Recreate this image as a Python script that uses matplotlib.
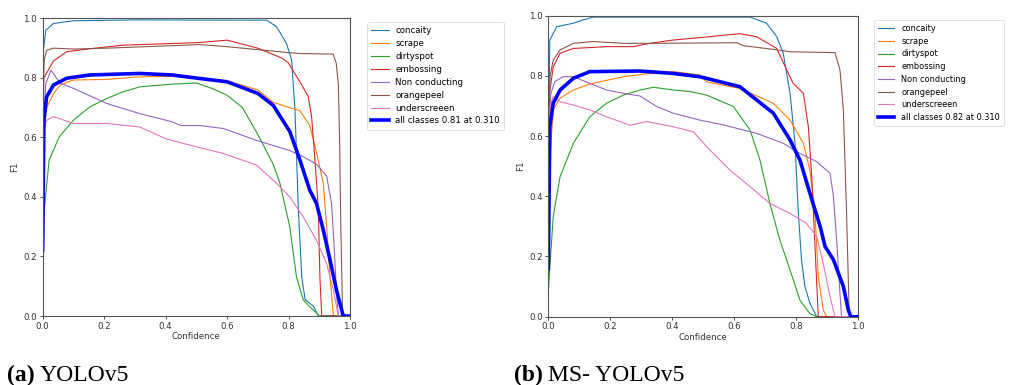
import matplotlib
matplotlib.use("Agg")
import matplotlib.pyplot as plt

class_names = ["concaity", "scrape", "dirtyspot", "embossing",
               "Non conducting", "orangepeel", "underscreeen"]
all_label_a = "all classes 0.81 at 0.310"
all_label_b = "all classes 0.82 at 0.310"
caption_a = ("(a)", "YOLOv5")
caption_b = ("(b)", "MS- YOLOv5")
ticks = [0.0, 0.2, 0.4, 0.6, 0.8, 1.0]

# ---------------- (a) YOLOv5 ----------------
a_concaity_x = [0, 0.003, 0.01, 0.035, 0.1, 0.3, 0.729, 0.761, 0.793, 0.81, 0.821, 0.832, 0.843, 0.854, 0.881, 0.897, 1.0]
a_concaity_y = [0.6, 0.9, 0.96, 0.983, 0.992, 0.995, 0.994, 0.972, 0.916, 0.86, 0.69, 0.356, 0.13, 0.055, 0.033, 0.0, 0.0]

a_scrape_x = [0, 0.004, 0.013, 0.035, 0.057, 0.1, 0.21, 0.316, 0.45, 0.6, 0.7, 0.75, 0.804, 0.837, 0.869, 0.891, 0.913, 0.924, 0.935, 0.946, 1.0]
a_scrape_y = [0.45, 0.62, 0.70, 0.747, 0.776, 0.793, 0.795, 0.804, 0.805, 0.79, 0.76, 0.718, 0.70, 0.69, 0.64, 0.55, 0.446, 0.30, 0.13, 0.0, 0.0]

a_dirty_x = [0, 0.005, 0.021, 0.054, 0.1, 0.154, 0.209, 0.26, 0.316, 0.42, 0.5, 0.55, 0.6, 0.65, 0.7, 0.75, 0.772, 0.804, 0.826, 0.848, 0.87, 0.891, 0.9, 1.0]
a_dirty_y = [0.11, 0.356, 0.524, 0.602, 0.658, 0.703, 0.731, 0.753, 0.77, 0.779, 0.783, 0.765, 0.742, 0.70, 0.61, 0.51, 0.446, 0.30, 0.13, 0.054, 0.03, 0.01, 0.0, 0.0]

a_emboss_x = [0, 0.004, 0.035, 0.078, 0.154, 0.26, 0.512, 0.6, 0.7, 0.78, 0.8, 0.82, 0.837, 0.864, 0.875, 0.886, 0.897, 0.902, 0.908, 1.0]
a_emboss_y = [0.6, 0.80, 0.857, 0.888, 0.898, 0.91, 0.919, 0.927, 0.9, 0.866, 0.85, 0.815, 0.787, 0.738, 0.67, 0.524, 0.356, 0.13, 0.0, 0.0]

a_noncond_x = [0, 0.01, 0.027, 0.057, 0.1, 0.209, 0.316, 0.42, 0.45, 0.512, 0.588, 0.696, 0.804, 0.848, 0.891, 0.924, 0.94, 0.948, 0.956, 0.962, 1.0]
a_noncond_y = [0.6, 0.78, 0.826, 0.782, 0.765, 0.714, 0.68, 0.653, 0.64, 0.64, 0.63, 0.59, 0.556, 0.535, 0.51, 0.47, 0.378, 0.24, 0.076, 0.0, 0.0]

a_orange_x = [0, 0.005, 0.013, 0.035, 0.1, 0.209, 0.512, 0.6, 0.7, 0.8, 0.837, 0.945, 0.955, 0.962, 0.966, 0.970, 0.976, 1.0]
a_orange_y = [0.7, 0.86, 0.893, 0.90, 0.897, 0.90, 0.912, 0.905, 0.895, 0.885, 0.882, 0.880, 0.85, 0.78, 0.6, 0.3, 0.0, 0.0]

a_under_x = [0, 0.005, 0.013, 0.035, 0.1, 0.209, 0.316, 0.40, 0.479, 0.588, 0.696, 0.761, 0.804, 0.848, 0.891, 0.924, 0.946, 0.962, 1.0]
a_under_y = [0.5, 0.63, 0.658, 0.67, 0.647, 0.647, 0.635, 0.596, 0.574, 0.546, 0.507, 0.446, 0.40, 0.333, 0.254, 0.176, 0.087, 0.0, 0.0]

a_all_x = [0, 0.004, 0.013, 0.035, 0.078, 0.154, 0.316, 0.42, 0.512, 0.6, 0.7, 0.75, 0.804, 0.837, 0.869, 0.891, 0.913, 0.935, 0.956, 0.978, 1.0]
a_all_y = [0.22, 0.658, 0.737, 0.776, 0.799, 0.81, 0.815, 0.81, 0.798, 0.787, 0.748, 0.708, 0.62, 0.524, 0.423, 0.378, 0.289, 0.188, 0.087, 0.0, 0.0]

# ---------------- (b) MS- YOLOv5 ----------------
b_concaity_x = [0, 0.005, 0.027, 0.081, 0.113, 0.145, 0.651, 0.704, 0.737, 0.758, 0.78, 0.796, 0.806, 0.817, 0.828, 0.844, 0.866, 1.0]
b_concaity_y = [0.55, 0.919, 0.963, 0.975, 0.986, 0.995, 0.995, 0.975, 0.93, 0.875, 0.742, 0.576, 0.355, 0.188, 0.10, 0.045, 0.0, 0.0]

b_scrape_x = [0, 0.005, 0.016, 0.038, 0.081, 0.134, 0.242, 0.328, 0.403, 0.489, 0.511, 0.618, 0.726, 0.78, 0.823, 0.844, 0.86, 0.871, 0.887, 0.898, 1.0]
b_scrape_y = [0.35, 0.52, 0.687, 0.726, 0.753, 0.773, 0.797, 0.808, 0.814, 0.803, 0.78, 0.758, 0.709, 0.653, 0.576, 0.487, 0.355, 0.133, 0.022, 0.0, 0.0]

b_dirty_x = [0, 0.005, 0.016, 0.038, 0.081, 0.134, 0.188, 0.242, 0.296, 0.339, 0.403, 0.457, 0.511, 0.597, 0.651, 0.683, 0.715, 0.747, 0.78, 0.812, 0.844, 0.866, 1.0]
b_dirty_y = [0.078, 0.166, 0.332, 0.465, 0.576, 0.664, 0.709, 0.736, 0.753, 0.762, 0.753, 0.748, 0.736, 0.698, 0.62, 0.52, 0.376, 0.255, 0.155, 0.055, 0.01, 0.0, 0.0]

b_emboss_x = [0, 0.005, 0.016, 0.038, 0.081, 0.188, 0.274, 0.328, 0.403, 0.489, 0.618, 0.672, 0.737, 0.769, 0.79, 0.823, 0.839, 0.85, 0.86, 0.871, 1.0]
b_emboss_y = [0.55, 0.75, 0.83, 0.875, 0.891, 0.897, 0.897, 0.908, 0.919, 0.927, 0.94, 0.93, 0.891, 0.82, 0.775, 0.742, 0.631, 0.465, 0.244, 0.0, 0.0]

b_noncond_x = [0, 0.008, 0.021, 0.048, 0.081, 0.134, 0.188, 0.242, 0.296, 0.35, 0.403, 0.489, 0.565, 0.672, 0.758, 0.812, 0.866, 0.909, 0.92, 0.931, 0.941, 0.946, 1.0]
b_noncond_y = [0.55, 0.74, 0.781, 0.797, 0.797, 0.775, 0.753, 0.742, 0.733, 0.698, 0.676, 0.653, 0.637, 0.609, 0.576, 0.542, 0.515, 0.476, 0.399, 0.244, 0.078, 0.0, 0.0]

b_orange_x = [0, 0.006, 0.016, 0.038, 0.081, 0.145, 0.242, 0.35, 0.608, 0.63, 0.726, 0.78, 0.925, 0.941, 0.952, 0.962, 0.971, 1.0]
b_orange_y = [0.6, 0.80, 0.853, 0.886, 0.908, 0.914, 0.908, 0.908, 0.91, 0.90, 0.888, 0.88, 0.877, 0.82, 0.686, 0.355, 0.0, 0.0]

b_under_x = [0, 0.006, 0.016, 0.038, 0.081, 0.134, 0.188, 0.263, 0.317, 0.403, 0.468, 0.489, 0.522, 0.586, 0.651, 0.715, 0.78, 0.833, 0.866, 0.887, 0.909, 0.925, 1.0]
b_under_y = [0.5, 0.70, 0.731, 0.714, 0.703, 0.687, 0.664, 0.636, 0.648, 0.631, 0.614, 0.59, 0.553, 0.487, 0.432, 0.376, 0.343, 0.31, 0.266, 0.177, 0.066, 0.0, 0.0]

b_all_x = [0, 0.005, 0.016, 0.038, 0.081, 0.134, 0.296, 0.403, 0.489, 0.618, 0.726, 0.78, 0.812, 0.844, 0.877, 0.893, 0.92, 0.952, 0.968, 0.976, 1.0]
b_all_y = [0.16, 0.631, 0.709, 0.753, 0.792, 0.814, 0.816, 0.808, 0.797, 0.764, 0.676, 0.587, 0.52, 0.41, 0.30, 0.233, 0.189, 0.1, 0.022, 0.0, 0.0]

series_a = [(a_concaity_x, a_concaity_y), (a_scrape_x, a_scrape_y), (a_dirty_x, a_dirty_y),
            (a_emboss_x, a_emboss_y), (a_noncond_x, a_noncond_y), (a_orange_x, a_orange_y),
            (a_under_x, a_under_y)]
series_b = [(b_concaity_x, b_concaity_y), (b_scrape_x, b_scrape_y), (b_dirty_x, b_dirty_y),
            (b_emboss_x, b_emboss_y), (b_noncond_x, b_noncond_y), (b_orange_x, b_orange_y),
            (b_under_x, b_under_y)]

colors = ["#1f77b4", "#ff7f0e", "#2ca02c", "#d62728", "#9467bd", "#8c564b", "#e377c2"]

fig = plt.figure(figsize=(10.09, 3.85), dpi=100)
FS = 6.2

def draw(rect, series, all_xy, all_label, legend_anchor, lfs):
    ax = fig.add_axes(rect)
    for (x, y), name, c in zip(series, class_names, colors):
        ax.plot(x, y, color=c, lw=0.8, label=name)
    ax.plot(all_xy[0], all_xy[1], color="blue", lw=2.6, label=all_label)
    ax.set_xlim(0, 1)
    ax.set_ylim(0, 1)
    ax.set_xticks(ticks)
    ax.set_yticks(ticks)
    ax.tick_params(labelsize=FS, length=2.5, width=0.6, pad=1.5, colors="#333333")
    for s in ax.spines.values():
        s.set_linewidth(0.8)
        s.set_color("#555555")
    ax.set_xlabel("Confidence", fontsize=FS, labelpad=1, color="#333333")
    ax.set_ylabel("F1", fontsize=FS, labelpad=3, color="#333333")
    leg = fig.legend(*ax.get_legend_handles_labels(), loc="upper left",
                     bbox_to_anchor=legend_anchor, bbox_transform=fig.transFigure,
                     fontsize=lfs, labelspacing=0.45, handlelength=2.0,
                     borderpad=0.5, borderaxespad=0.0, framealpha=1.0, edgecolor="#dddddd")
    leg.get_frame().set_linewidth(0.6)
    return ax

draw([0.0423, 0.1792, 0.3046, 0.773], series_a, (a_all_x, a_all_y), all_label_a,
     (367 / 1009, 1 - 22 / 385), FS)
draw([0.5434, 0.1774, 0.3072, 0.782], series_b, (b_all_x, b_all_y), all_label_b,
     (874 / 1009, 1 - 20 / 385), 5.9)

serif = ["Liberation Serif", "DejaVu Serif"]
def caption(xpix, parts):
    t1 = fig.text(xpix / 1009, 4 / 385, parts[0], fontsize=17, fontweight="bold",
                  family=serif, va="baseline", ha="left")
    fig.canvas.draw()
    bb = t1.get_window_extent()
    fig.text((bb.x1 + 5) / 1009, 4 / 385, parts[1], fontsize=17, family=serif,
             va="baseline", ha="left")

caption(7, caption_a)
caption(514, caption_b)

fig.savefig("out.png", dpi=100)
